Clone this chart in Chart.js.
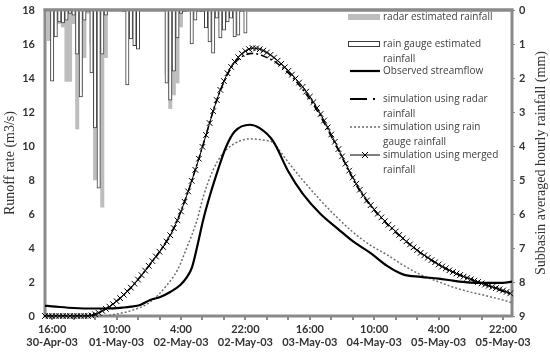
<!DOCTYPE html>
<html lang="en">
<head>
<meta charset="UTF-8">
<title>Runoff rate and rainfall</title>
<style>
  html, body { margin: 0; padding: 0; background: #fff; }
  #wrap { width: 550px; height: 359px; }
</style>
</head>
<body>
<div id="wrap"><canvas id="runoffChart"></canvas></div>

<script src="https://cdn.jsdelivr.net/npm/chart.js"></script>
<script>
// time is in hours counted from 30-Apr-03 16:00
const tickHours = [0, 6, 12, 18, 24, 30, 36, 42, 48, 54, 60, 66, 72, 78, 84, 90, 96, 102, 108, 114, 120, 126];
const labelHours = [0, 18, 36, 54, 72, 90, 108, 126];
const tickTimes = ['16:00', '10:00', '4:00', '22:00', '16:00', '10:00', '4:00', '22:00'];
const tickDates = ['30-Apr-03', '01-May-03', '02-May-03', '02-May-03', '03-May-03', '04-May-03', '05-May-03', '05-May-03'];

// hourly rainfall (mm), hung from the top on the reversed right axis
const rainHours = [-1, 0, 1, 2, 3, 4, 5, 6, 7, 8, 9, 10, 11, 12, 13, 14, 15, 20, 21, 22, 23, 24, 32, 33, 34, 35, 36, 37, 39, 40, 41, 42, 43, 44, 45, 46, 47, 48, 49, 50, 51, 52, 53, 54];
const radarRain = [0.9, 0.3, 0.3, 0.4, 0.5, 2.1, 2.1, 0.4, 3.5, 2.4, 1.4, 0.1, 1.0, 5.0, 4.2, 5.8, 1.4, 0.05, 0, 0, 0, 0, 1.9, 2.9, 2.5, 2.15, 0.5, 0.05, 0, 0, 0, 0, 0.05, 0.1, 0.1, 0.1, 0.05, 0.05, 0, 0, 0, 0, 0, 0];
const gaugeRain = [0, 2.09, 0.79, 0.35, 0.38, 0.3, 0.1, 0.15, 1.3, 2.56, 0.3, 0.05, 1.85, 3.47, 5.24, 1.3, 0.15, 0.05, 2.2, 0.85, 1.05, 1.15, 2.15, 2.65, 1.8, 0.82, 0.1, 0.05, 1.0, 0.3, 0.05, 0.05, 0.53, 0.94, 1.27, 0.24, 0.82, 0.59, 0.35, 0.24, 0.79, 0.74, 0.05, 0.68];

// observed streamflow (m3/s)
const obsHours = [-2, 0, 6, 12, 17, 20, 22, 24.6, 27.4, 30.2, 33, 35.8, 37.7, 39.1, 40.5, 42.2, 44.1, 46.5, 48.5, 51, 55.3, 58, 61.7, 66, 70, 75, 80, 84, 89, 93.6, 98, 103, 108, 112, 116, 121, 126, 128.5];
const obsFlow = [0.6, 0.57, 0.47, 0.44, 0.45, 0.5, 0.55, 0.65, 0.94, 1.12, 1.41, 1.82, 2.3, 2.88, 4.06, 5.65, 7.1, 8.7, 9.9, 10.85, 11.25, 11.05, 10.3, 8.5, 7.2, 6.0, 5.1, 4.4, 3.7, 2.95, 2.45, 2.3, 2.2, 2.08, 1.98, 1.95, 1.95, 2.02];

// simulation using radar rainfall
const radarSimHours = [-2, 10, 14, 18, 22, 26, 30, 34, 38, 42, 46, 50, 53, 56, 59, 63, 68, 74, 80, 86, 92, 98, 104, 110, 116, 122, 128.5];
const radarSimFlow = [0, 0, 0.3, 0.87, 1.67, 2.67, 3.78, 5.17, 7.33, 9.95, 12.7, 14.6, 15.25, 15.45, 15.3, 14.85, 13.85, 12.1, 9.75, 7.35, 5.75, 4.55, 3.55, 2.78, 2.22, 1.78, 1.25];

// simulation using rain gauge rainfall
const gaugeSimHours = [-2, 14, 18, 22.6, 27.4, 32, 35, 37.7, 40.5, 42.2, 45, 47.5, 50.6, 55.3, 59, 61.7, 64, 66.5, 70, 75, 79.6, 84, 88.8, 93.6, 98, 102.8, 107.5, 112, 116.8, 121.5, 126, 128.5];
const gaugeSimFlow = [0, 0, 0.12, 0.35, 0.82, 1.8, 2.7, 4.06, 5.65, 7.0, 8.6, 9.5, 10.1, 10.42, 10.35, 10.2, 9.6, 8.9, 8.0, 6.8, 5.8, 4.94, 4.18, 3.6, 3.0, 2.45, 2.05, 1.7, 1.41, 1.18, 0.94, 0.78];

// simulation using merged rainfall, one value per hour from hour -2
const mergedStart = -2;
const mergedFlow = [
  0, 0, 0, 0, 0, 0, 0, 0, 0, 0, 0, 0, 0,
  0.03, 0.1, 0.18, 0.3, 0.42, 0.55, 0.7, 0.87, 1.05, 1.25,
  1.45, 1.67, 1.9, 2.14, 2.4, 2.67, 2.95, 3.23, 3.5, 3.78,
  4.06, 4.38, 4.75, 5.17, 5.63, 6.15, 6.72, 7.33, 7.95, 8.6,
  9.25, 9.95, 10.65, 11.35, 12.05, 12.7, 13.3, 13.82, 14.28, 14.65,
  14.96, 15.22, 15.43, 15.58, 15.7, 15.76, 15.74, 15.69, 15.61, 15.5,
  15.36, 15.2, 15.02, 14.83, 14.63, 14.42, 14.2, 13.97, 13.73, 13.48,
  13.2, 12.9, 12.58, 12.24, 11.88, 11.5, 11.1, 10.68, 10.25, 9.82,
  9.39, 8.96, 8.55, 8.15, 7.78, 7.43, 7.1, 6.8, 6.52, 6.26,
  6.02, 5.8, 5.58, 5.37, 5.17, 4.97, 4.77, 4.57, 4.39, 4.21,
  4.04, 3.88, 3.72, 3.57, 3.43, 3.29, 3.16, 3.03, 2.91, 2.8,
  2.69, 2.59, 2.5, 2.41, 2.32, 2.24, 2.16, 2.08, 2.0, 1.92,
  1.85, 1.78, 1.71, 1.64, 1.57, 1.5, 1.42, 1.33
];

const legendLines = [
  ['radar estimated rainfall'],
  ['rain gauge estimated', 'rainfall'],
  ['Observed streamflow'],
  ['simulation using radar', 'rainfall'],
  ['simulation using rain', 'gauge rainfall'],
  ['simulation using merged', 'rainfall']
];

const pts = (xs, ys) => xs.map((x, i) => ({ x: x, y: ys[i] }));
const frameColor = '#8a8a8a';
const textColor = '#333333';
const tickFont = { family: 'Lato', size: 11, weight: 'bold' };

// keep the plot box where the reference has it (45..512 x 10..316)
const fixSide = (size) => (s) => {
  if (s.isHorizontal()) s.height = size; else s.width = size;
  s.paddingLeft = 0; s.paddingRight = 0; s.paddingTop = 0; s.paddingBottom = 0;
};

// grey box round the plot; top edge goes over the bars
const framePlugin = {
  id: 'frame',
  beforeDatasetsDraw(chart) {
    const { ctx, chartArea: a } = chart;
    ctx.save();
    ctx.strokeStyle = frameColor;
    ctx.lineWidth = 3;
    ctx.strokeRect(a.left, a.top, a.right - a.left, a.bottom - a.top);
    ctx.restore();
  },
  afterDatasetsDraw(chart) {
    const { ctx, chartArea: a } = chart;
    ctx.save();
    ctx.strokeStyle = frameColor;
    ctx.lineWidth = 3;
    ctx.beginPath();
    ctx.moveTo(a.left - 1.5, a.top);
    ctx.lineTo(a.right + 1.5, a.top);
    ctx.stroke();
    ctx.restore();
  }
};

// right axis title reads bottom to top, like the left one
const rightTitlePlugin = {
  id: 'rightTitle',
  afterDraw(chart) {
    const { ctx, chartArea: a } = chart;
    ctx.save();
    ctx.translate(541, (a.top + a.bottom) / 2);
    ctx.rotate(-Math.PI / 2);
    ctx.font = '14px "Liberation Serif"';
    ctx.fillStyle = textColor;
    ctx.textAlign = 'center';
    ctx.textBaseline = 'middle';
    ctx.fillText('Subbasin averaged hourly rainfall (mm)', 0, 0);
    ctx.restore();
  }
};

// legend with wrapped labels, inside the plot at the upper right
const legendPlugin = {
  id: 'wrapLegend',
  afterDraw(chart) {
    const { ctx } = chart;
    const rowY = [17, 44, 71, 99, 127, 155];
    const x0 = 348, x1 = 380, tx = 383;
    ctx.save();
    chart.data.datasets.forEach((ds, i) => {
      const y = rowY[i];
      if (ds.type === 'bar') {
        ctx.fillStyle = ds.backgroundColor;
        ctx.fillRect(x0, y - 3, x1 - x0, 6);
        if (ds.borderWidth) {
          ctx.strokeStyle = ds.borderColor;
          ctx.lineWidth = 1;
          ctx.strokeRect(x0 + 0.5, y - 2.5, x1 - x0 - 1, 5);
        }
      } else {
        ctx.strokeStyle = ds.borderColor;
        ctx.lineWidth = ds.legendWidth || ds.borderWidth;
        ctx.setLineDash(ds.legendDash || ds.borderDash || []);
        ctx.beginPath();
        ctx.moveTo(x0 + 2, y);
        ctx.lineTo(x1, y);
        ctx.stroke();
        ctx.setLineDash([]);
        if (ds.pointStyle === 'crossRot') {
          const cx = (x0 + x1) / 2 + 1, r = 3;
          ctx.lineWidth = 1;
          ctx.beginPath();
          ctx.moveTo(cx - r, y - r); ctx.lineTo(cx + r, y + r);
          ctx.moveTo(cx - r, y + r); ctx.lineTo(cx + r, y - r);
          ctx.stroke();
        }
      }
      ctx.fillStyle = '#404040';
      ctx.font = '10px "Open Sans"';
      ctx.textBaseline = 'middle';
      legendLines[i].forEach((line, k) => ctx.fillText(line, tx, y + k * 15));
    });
    ctx.restore();
  }
};

const ctx = document.getElementById('runoffChart').getContext('2d');
new Chart(ctx, {
  data: {
    datasets: [
      {
        type: 'bar', label: 'radar estimated rainfall',
        data: pts(rainHours, radarRain), yAxisID: 'y2',
        backgroundColor: '#bdbdbd', borderWidth: 0,
        barThickness: 3.4, grouped: false, order: 5
      },
      {
        type: 'bar', label: 'rain gauge estimated rainfall',
        data: pts(rainHours, gaugeRain), yAxisID: 'y2',
        backgroundColor: '#ffffff', borderColor: '#3a3a3a', borderWidth: 1,
        barThickness: 3.4, grouped: false, order: 4
      },
      {
        type: 'line', label: 'Observed streamflow',
        data: pts(obsHours, obsFlow), yAxisID: 'y',
        borderColor: '#000000', borderWidth: 2.2, pointRadius: 0,
        cubicInterpolationMode: 'monotone', order: 0
      },
      {
        type: 'line', label: 'simulation using radar rainfall',
        data: pts(radarSimHours, radarSimFlow), yAxisID: 'y',
        borderColor: '#000000', borderWidth: 1.6, pointRadius: 0,
        borderDash: [7, 3, 2, 3], legendDash: [17, 6, 2, 20], legendWidth: 2.2,
        cubicInterpolationMode: 'monotone', order: 2
      },
      {
        type: 'line', label: 'simulation using rain gauge rainfall',
        data: pts(gaugeSimHours, gaugeSimFlow), yAxisID: 'y',
        borderColor: '#6e6e6e', borderWidth: 1.5, pointRadius: 0,
        borderDash: [2, 2],
        cubicInterpolationMode: 'monotone', order: 3
      },
      {
        type: 'line', label: 'simulation using merged rainfall',
        data: mergedFlow.map((v, i) => ({ x: mergedStart + i, y: v })), yAxisID: 'y',
        borderColor: '#000000', borderWidth: 1,
        pointStyle: 'crossRot', pointRadius: 4, pointBorderWidth: 1,
        pointBorderColor: '#000000', clip: false, order: 1
      }
    ]
  },
  options: {
    responsive: true,
    maintainAspectRatio: false,
    animation: false,
    layout: { padding: { top: 10, left: 0, right: 0, bottom: 0 } },
    plugins: { legend: { display: false }, tooltip: { enabled: false } },
    scales: {
      x: {
        type: 'linear', position: 'bottom', min: -2, max: 128.5, offset: false,
        afterBuildTicks: (axis) => { axis.ticks = tickHours.map(v => ({ value: v })); },
        afterFit: fixSide(43),
        ticks: {
          autoSkip: false, maxRotation: 0, minRotation: 0, padding: 3,
          color: textColor, font: tickFont,
          callback: (v) => {
            const k = labelHours.indexOf(v);
            return k < 0 ? '' : [tickTimes[k], tickDates[k]];
          }
        },
        grid: { offset: false, drawOnChartArea: false, drawTicks: true, tickLength: 4, color: frameColor, lineWidth: 2 },
        border: { display: false }
      },
      y: {
        type: 'linear', position: 'left', min: 0, max: 18,
        afterFit: fixSide(45),
        ticks: { stepSize: 2, padding: 10, color: textColor, font: tickFont },
        grid: { drawOnChartArea: false, drawTicks: false },
        border: { display: false },
        title: {
          display: true, text: 'Runoff rate (m3/s)', color: textColor,
          font: { family: 'Liberation Serif', size: 14 }, padding: { top: 2, bottom: 0 }
        }
      },
      y2: {
        type: 'linear', position: 'right', min: 0, max: 9, reverse: true,
        afterFit: fixSide(38),
        ticks: { stepSize: 1, padding: 4, color: textColor, font: tickFont },
        grid: { drawOnChartArea: false, drawTicks: true, tickLength: 3, color: frameColor },
        border: { display: false }
      }
    }
  },
  plugins: [framePlugin, rightTitlePlugin, legendPlugin]
});
</script>
</body>
</html>
